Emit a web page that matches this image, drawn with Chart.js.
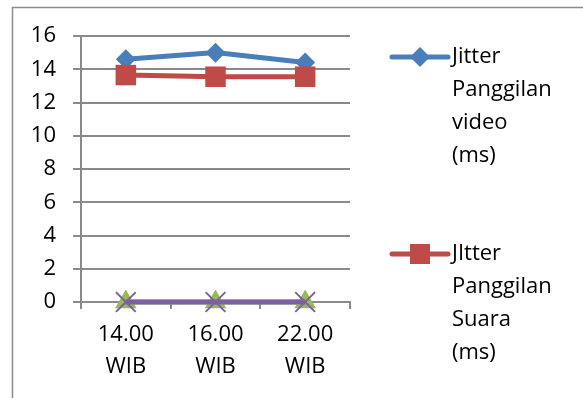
<!DOCTYPE html>
<html>
<head>
<meta charset="utf-8">
<script src="https://cdn.jsdelivr.net/npm/chart.js@4.4.0/dist/chart.umd.min.js"></script>
<style>
  html, body { margin: 0; padding: 0; background: #ffffff; }
  #wrap { width: 583px; height: 398px; position: relative; }
</style>
</head>
<body>
<div id="wrap"><canvas id="c" width="583" height="398"></canvas></div>
<script>
// Measurement times (two-line category labels)
const categories = [['14.00', 'WIB'], ['16.00', 'WIB'], ['22.00', 'WIB']];

// Jitter values in milliseconds
const jitterVideo = [14.6, 15.0, 14.4];
const jitterSuara = [13.65, 13.55, 13.55];
const seriesThree = [0, 0, 0];
const seriesFour = [0, 0, 0];

// Y axis range and step
const yMin = 0;
const yMax = 16;
const yStep = 2;

// Legend text, one array entry per wrapped line
const legendVideo = ['Jitter', 'Panggilan', 'video', '(ms)'];
const legendSuara = ['JItter', 'Panggilan', 'Suara', '(ms)'];

const FONT = '"Open Sans", "Liberation Sans", sans-serif';
const GRID = '#8a8a8a';

// Outer frame lines around the chart
const framePlugin = {
  id: 'frame',
  beforeDraw(chart) {
    const ctx = chart.ctx;
    ctx.save();
    ctx.strokeStyle = '#8c8c8c';
    ctx.lineWidth = 1.5;
    ctx.beginPath();
    ctx.moveTo(12.5, 398);
    ctx.lineTo(12.5, 7.5);
    ctx.lineTo(583, 7.5);
    ctx.stroke();
    ctx.restore();
  }
};

// Right-hand legend with wrapped text for the first two series
const wrapLegendPlugin = {
  id: 'wrapLegend',
  afterDraw(chart, args, opts) {
    const ctx = chart.ctx;
    opts.items.forEach(item => {
      const ds = chart.data.datasets[item.index];
      const y = item.y;
      ctx.save();
      ctx.strokeStyle = ds.borderColor;
      ctx.lineWidth = ds.borderWidth;
      ctx.lineCap = 'round';
      ctx.beginPath();
      ctx.moveTo(opts.lineX0, y);
      ctx.lineTo(opts.lineX1, y);
      ctx.stroke();
      const cx = (opts.lineX0 + opts.lineX1) / 2;
      const r = item.markerRadius;
      ctx.fillStyle = ds.pointBackgroundColor;
      ctx.beginPath();
      if (ds.pointStyle === 'rectRot') {
        ctx.moveTo(cx, y - r);
        ctx.lineTo(cx + r, y);
        ctx.lineTo(cx, y + r);
        ctx.lineTo(cx - r, y);
        ctx.closePath();
      } else {
        ctx.rect(cx - r, y - r, 2 * r, 2 * r);
      }
      ctx.fill();
      ctx.fillStyle = '#000000';
      ctx.font = '22px ' + FONT;
      ctx.textBaseline = 'middle';
      ctx.textAlign = 'left';
      item.lines.forEach((t, i) => {
        ctx.fillText(t, opts.textX, y + i * opts.lineGap);
      });
      ctx.restore();
    });
  }
};

new Chart(document.getElementById('c'), {
  type: 'line',
  data: {
    labels: categories,
    datasets: [
      {
        label: legendVideo.join(' '),
        data: jitterVideo,
        order: 3,
        clip: false,
        borderColor: '#4a7ebb',
        backgroundColor: '#4a7ebb',
        pointBackgroundColor: '#4a7ebb',
        pointBorderColor: '#4a7ebb',
        borderWidth: 5,
        pointStyle: 'rectRot',
        pointRadius: 10,
        pointBorderWidth: 0,
        tension: 0
      },
      {
        label: legendSuara.join(' '),
        data: jitterSuara,
        order: 2,
        clip: false,
        borderColor: '#be4b48',
        backgroundColor: '#be4b48',
        pointBackgroundColor: '#be4b48',
        pointBorderColor: '#be4b48',
        borderWidth: 5,
        pointStyle: 'rect',
        pointRadius: 14.5,
        pointBorderWidth: 0,
        tension: 0
      },
      {
        data: seriesThree,
        order: 1,
        clip: false,
        borderColor: '#98b954',
        backgroundColor: '#98b954',
        pointBackgroundColor: '#98b954',
        pointBorderColor: '#98b954',
        borderWidth: 5,
        pointStyle: 'triangle',
        pointRadius: 12.5,
        pointBorderWidth: 0,
        tension: 0
      },
      {
        data: seriesFour,
        order: 0,
        clip: false,
        borderColor: '#7d60a0',
        backgroundColor: '#7d60a0',
        pointBackgroundColor: 'rgba(0,0,0,0)',
        pointBorderColor: '#7d60a0',
        borderWidth: 5,
        pointStyle: 'crossRot',
        pointRadius: 14,
        pointBorderWidth: 2,
        tension: 0
      }
    ]
  },
  options: {
    responsive: false,
    animation: false,
    devicePixelRatio: 1,
    layout: { padding: { left: 0, top: 36, right: 233, bottom: 0 } },
    plugins: {
      legend: { display: false },
      tooltip: { enabled: false },
      wrapLegend: {
        lineX0: 392,
        lineX1: 448,
        textX: 452,
        lineGap: 33,
        items: [
          { index: 0, y: 57, lines: legendVideo, markerRadius: 10 },
          { index: 1, y: 254, lines: legendSuara, markerRadius: 10 }
        ]
      }
    },
    scales: {
      x: {
        type: 'category',
        offset: true,
        afterFit(scale) { scale.height = 96; },
        grid: {
          offset: true,
          drawOnChartArea: false,
          drawTicks: true,
          tickLength: 7,
          color: GRID,
          lineWidth: 2
        },
        border: { color: GRID, width: 2 },
        ticks: {
          color: '#000000',
          font: { family: FONT, size: 22, lineHeight: 1.45 },
          padding: 10,
          maxRotation: 0,
          autoSkip: false
        }
      },
      y: {
        min: yMin,
        max: yMax,
        afterFit(scale) { scale.width = 81; },
        grid: {
          color: GRID,
          lineWidth: 2,
          drawTicks: true,
          tickLength: 8
        },
        border: { color: GRID, width: 2 },
        ticks: {
          stepSize: yStep,
          color: '#000000',
          font: { family: FONT, size: 22 },
          padding: 17
        }
      }
    }
  },
  plugins: [framePlugin, wrapLegendPlugin]
});
</script>
</body>
</html>
